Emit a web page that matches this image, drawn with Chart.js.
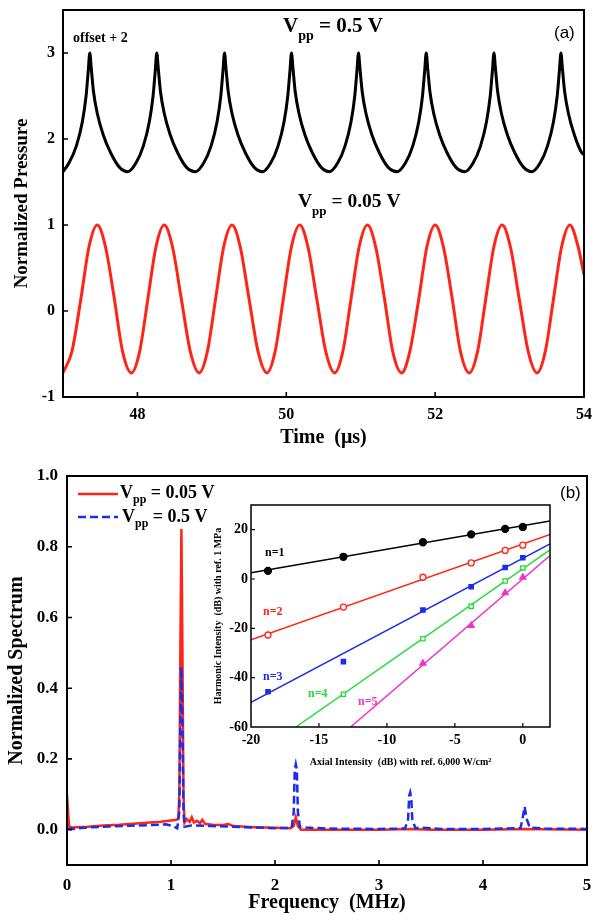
<!DOCTYPE html>
<html>
<head>
<meta charset="utf-8">
<script src="https://cdn.jsdelivr.net/npm/chart.js@4.4.1/dist/chart.umd.min.js"></script>
<style>
  body { margin: 0; background: #fff; }
  #wrap { position: relative; width: 600px; height: 921px; background: #fff; }
  canvas { position: absolute; }
</style>
</head>
<body>
<div id="wrap">
  <canvas id="chartA" width="600" height="460" style="left:0;top:0"></canvas>
  <canvas id="chartB" width="600" height="461" style="left:0;top:460px"></canvas>
  <canvas id="inset" width="370" height="285" style="left:195px;top:495px"></canvas>
</div>
<script>
// ---- (a) time waveforms ----
const timeHigh = [47.00, 47.08, 47.18, 47.26, 47.31, 47.34, 47.36, 47.38, 47.41, 47.46, 47.54, 47.64, 47.76, 47.87,
  47.98, 48.08, 48.16, 48.21, 48.24, 48.26, 48.28, 48.31, 48.36, 48.44, 48.54, 48.66, 48.78,
  48.89, 48.99, 49.07, 49.12, 49.15, 49.17, 49.19, 49.22, 49.27, 49.35, 49.45, 49.57, 49.68,
  49.79, 49.89, 49.97, 50.02, 50.05, 50.07, 50.09, 50.12, 50.17, 50.25, 50.35, 50.47, 50.58,
  50.69, 50.79, 50.87, 50.92, 50.95, 50.97, 50.99, 51.02, 51.07, 51.15, 51.25, 51.37, 51.49,
  51.60, 51.70, 51.78, 51.83, 51.86, 51.88, 51.90, 51.93, 51.98, 52.06, 52.16, 52.28, 52.40,
  52.51, 52.61, 52.69, 52.74, 52.77, 52.79, 52.81, 52.84, 52.89, 52.97, 53.07, 53.19, 53.30,
  53.41, 53.51, 53.59, 53.64, 53.67, 53.69, 53.71, 53.74, 53.79, 53.87, 53.97, 54.00];
const pressHigh = [1.62, 1.72, 1.92, 2.2, 2.5, 2.8, 3.0, 2.82, 2.55, 2.3, 2.05, 1.84, 1.67, 1.62,
  1.72, 1.92, 2.2, 2.5, 2.8, 3.0, 2.82, 2.55, 2.3, 2.05, 1.84, 1.67, 1.62,
  1.72, 1.92, 2.2, 2.5, 2.8, 3.0, 2.82, 2.55, 2.3, 2.05, 1.84, 1.67, 1.62,
  1.72, 1.92, 2.2, 2.5, 2.8, 3.0, 2.82, 2.55, 2.3, 2.05, 1.84, 1.67, 1.62,
  1.72, 1.92, 2.2, 2.5, 2.8, 3.0, 2.82, 2.55, 2.3, 2.05, 1.84, 1.67, 1.62,
  1.72, 1.92, 2.2, 2.5, 2.8, 3.0, 2.82, 2.55, 2.3, 2.05, 1.84, 1.67, 1.62,
  1.72, 1.92, 2.2, 2.5, 2.8, 3.0, 2.82, 2.55, 2.3, 2.05, 1.84, 1.67, 1.62,
  1.72, 1.92, 2.2, 2.5, 2.8, 3.0, 2.82, 2.55, 2.3, 2.05, 1.84, 1.82];

const timeLow = [47.00, 47.12, 47.24, 47.35, 47.46, 47.57, 47.69, 47.80,
  47.92, 48.03, 48.14, 48.25, 48.36, 48.47, 48.59, 48.71,
  48.83, 48.94, 49.05, 49.16, 49.27, 49.38, 49.50, 49.62,
  49.74, 49.85, 49.96, 50.07, 50.18, 50.29, 50.41, 50.53,
  50.65, 50.76, 50.87, 50.98, 51.09, 51.20, 51.32, 51.43,
  51.55, 51.66, 51.78, 51.89, 52.00, 52.11, 52.23, 52.34,
  52.46, 52.57, 52.68, 52.79, 52.90, 53.01, 53.13, 53.25,
  53.37, 53.48, 53.59, 53.70, 53.81, 53.92, 54.00];
const pressLow = [-0.72, -0.47, 0.14, 0.75, 1.0, 0.75, 0.14, -0.47,
  -0.72, -0.47, 0.14, 0.75, 1.0, 0.75, 0.14, -0.47,
  -0.72, -0.47, 0.14, 0.75, 1.0, 0.75, 0.14, -0.47,
  -0.72, -0.47, 0.14, 0.75, 1.0, 0.75, 0.14, -0.47,
  -0.72, -0.47, 0.14, 0.75, 1.0, 0.75, 0.14, -0.47,
  -0.72, -0.47, 0.14, 0.75, 1.0, 0.75, 0.14, -0.47,
  -0.72, -0.47, 0.14, 0.75, 1.0, 0.75, 0.14, -0.47,
  -0.72, -0.47, 0.14, 0.75, 1.0, 0.75, 0.42];

const timeTicks = [48, 50, 52, 54];
const pressTicks = [-1, 0, 1, 2, 3];

// ---- (b) spectra ----
const freqRed = [0, 0.01, 0.02, 0.05, 0.2, 0.35, 0.5, 0.6, 0.7, 0.8, 0.9, 1.0, 1.05, 1.07, 1.08, 1.09, 1.1, 1.11, 1.12, 1.13,
  1.15, 1.18, 1.2, 1.22, 1.25, 1.28, 1.3, 1.33, 1.4, 1.5, 1.55, 1.6, 1.8, 2.0, 2.15, 2.18, 2.2, 2.22, 2.25,
  2.5, 3.0, 3.3, 3.5, 4.0, 4.4, 5.0];
const specRed = [0.10, 0.05, 0.01, 0.006, 0.008, 0.012, 0.014, 0.016, 0.018, 0.02, 0.022, 0.026, 0.028, 0.03, 0.1, 0.5, 0.85, 0.5, 0.1, 0.02,
  0.03, 0.022, 0.035, 0.02, 0.025, 0.018, 0.028, 0.016, 0.014, 0.013, 0.016, 0.01, 0.007, 0.005, 0.004, 0.01, 0.035, 0.01, 0.0,
  0.0, 0.0, 0.002, 0.0, 0.0, 0.002, 0.0];
const freqBlue = [0, 0.05, 0.2, 0.4, 0.6, 0.8, 0.95, 1.02, 1.06, 1.08, 1.09, 1.1, 1.11, 1.12, 1.13,
  1.2, 1.4, 1.6, 1.8, 2.0, 2.16, 2.18, 2.19, 2.2, 2.21, 2.22, 2.24, 2.3, 2.5,
  3.0, 3.25, 3.28, 3.29, 3.3, 3.31, 3.32, 3.35, 3.4, 3.6, 4.0, 4.36, 4.38, 4.4, 4.42, 4.45, 4.6, 5.0];
const specBlue = [0.003, 0.002, 0.006, 0.009, 0.011, 0.013, 0.015, 0.01, 0.004, 0.05, 0.3, 0.46, 0.3, 0.05, 0.008,
  0.012, 0.01, 0.008, 0.006, 0.004, 0.005, 0.05, 0.17, 0.185, 0.17, 0.05, 0.008, 0.006, 0.003,
  0.002, 0.003, 0.03, 0.095, 0.105, 0.09, 0.03, 0.004, 0.006, 0.002, 0.002, 0.004, 0.03, 0.065, 0.03, 0.006, 0.003, 0.002];

const freqTicks = [0, 1, 2, 3, 4, 5];
const specTicks = [0, 0.2, 0.4, 0.6, 0.8, 1.0];

// ---- inset: harmonic intensity vs axial intensity ----
const axialDb = [-18.75, -13.2, -7.35, -3.8, -1.3, 0];
const harm1 = [3.3, 9, 14.9, 18.1, 20.3, 21.1];
const harm2 = [-22.7, -11.4, 0.7, 6.5, 11.6, 13.7];
const harm3 = [-45.7, -33.5, -12.6, -3.1, 4.7, 8.6];
const harm4 = [null, -46.7, -24.2, -11.1, -0.8, 4.5];
const harm5 = [null, null, -34.2, -18.9, -5.6, 0.7];
const fitX1 = [-20, 2],     fitY1 = [2.5, 23.5];
const fitX2 = [-20, 2],     fitY2 = [-24.6, 18.1];
const fitX3 = [-20, 2],     fitY3 = [-50, 14.2];
const fitX4 = [-16.7, 2],   fitY4 = [-60, 11.8];
const fitX5 = [-12.67, 2],  fitY5 = [-60, 9.5];
const axialTicks = [-20, -15, -10, -5, 0];
const harmTicks = [-60, -40, -20, 0, 20];

const SERIF = '"Liberation Serif", "Times New Roman", serif';
const RED = '#ff2418';
const BLUE = '#1c2de8';
const GREEN = '#22dd33';
const MAGENTA = '#ee33cc';

function pts(xs, ys) {
  return xs.map((x, i) => ({ x: x, y: ys[i] })).filter(p => p.y !== null);
}

// V with "pp" subscript, then the rest of the text
function vpp(ctx, x, y, size, rest, drop) {
  ctx.fillStyle = '#000';
  ctx.textAlign = 'left';
  ctx.textBaseline = 'alphabetic';
  ctx.font = 'bold ' + size + 'px ' + SERIF;
  ctx.fillText('V', x, y);
  let w = ctx.measureText('V').width;
  const sub = Math.round(size * 0.66);
  ctx.font = 'bold ' + sub + 'px ' + SERIF;
  ctx.fillText('pp', x + w, y + size * drop);
  w += ctx.measureText('pp').width;
  ctx.font = 'bold ' + size + 'px ' + SERIF;
  ctx.fillText(rest, x + w, y);
}

// box around the plot area, inward tick marks, extra text
function framePlugin(lineWidth, tickLen, drawText) {
  return {
    id: 'frame',
    afterDraw(chart) {
      const ctx = chart.ctx;
      const a = chart.chartArea;
      const xs = chart.scales.x, ys = chart.scales.y;
      ctx.save();
      ctx.strokeStyle = '#000';
      ctx.lineWidth = lineWidth;
      ctx.strokeRect(a.left, a.top, a.right - a.left, a.bottom - a.top);
      ctx.lineWidth = lineWidth * 0.8;
      ctx.beginPath();
      xs.ticks.forEach(t => {
        const px = xs.getPixelForValue(t.value);
        if (px > a.left + 1 && px < a.right - 1) {
          ctx.moveTo(px, a.bottom);
          ctx.lineTo(px, a.bottom - tickLen);
        }
      });
      ys.ticks.forEach(t => {
        const py = ys.getPixelForValue(t.value);
        if (py > a.top + 1 && py < a.bottom - 1) {
          ctx.moveTo(a.left, py);
          ctx.lineTo(a.left + tickLen, py);
        }
      });
      ctx.stroke();
      if (drawText) drawText(ctx, chart);
      ctx.restore();
    }
  };
}

function axis(min, max, ticks, fmt, fontSize, pad, title, titleSize, titlePad, fixed, horizontal) {
  return {
    type: 'linear',
    min: min,
    max: max,
    afterBuildTicks: s => { s.ticks = ticks.map(v => ({ value: v })); },
    afterFit: s => {
      if (horizontal) s.height = fixed; else s.width = fixed;
      // plot area is set by the layout padding alone
      s.paddingTop = s.paddingBottom = s.paddingLeft = s.paddingRight = 0;
    },
    grid: { display: false, drawTicks: false },
    border: { display: false },
    ticks: {
      color: '#000',
      padding: pad,
      font: { family: SERIF, size: fontSize, weight: 'bold' },
      callback: v => fmt(v)
    },
    title: {
      display: true,
      text: title,
      color: '#000',
      padding: titlePad,
      font: { family: SERIF, size: titleSize, weight: 'bold' }
    }
  };
}

Chart.defaults.animation = false;
Chart.defaults.devicePixelRatio = 1;

// ---------- chart (a) ----------
new Chart(document.getElementById('chartA'), {
  type: 'line',
  data: {
    datasets: [{
      data: pts(timeHigh, pressHigh),
      borderColor: '#000',
      borderWidth: 3,
      pointRadius: 0,
      cubicInterpolationMode: 'monotone'
    }, {
      data: pts(timeLow, pressLow),
      borderColor: RED,
      borderWidth: 3,
      pointRadius: 0,
      cubicInterpolationMode: 'monotone'
    }]
  },
  options: {
    responsive: false,
    layout: { padding: { left: 0, right: 16, top: 10, bottom: 0 } },
    plugins: { legend: { display: false }, tooltip: { enabled: false } },
    scales: {
      x: axis(47, 54, timeTicks, v => String(v), 16, 8, 'Time  (μs)', 20, { bottom: 10 }, 63, true),
      y: axis(-1, 3.5, pressTicks, v => String(v), 16, 8, 'Normalized Pressure', 19, { top: 11 }, 63, false)
    }
  },
  plugins: [framePlugin(2, 5, ctx => {
    ctx.fillStyle = '#000';
    ctx.font = 'bold 14px ' + SERIF;
    ctx.fillText('offset + 2', 73, 42);
    vpp(ctx, 283, 32, 21, ' = 0.5 V', 0.4);
    vpp(ctx, 298, 207, 19.5, ' = 0.05 V', 0.4);
    ctx.font = '17px "Liberation Sans", Arial, sans-serif';
    ctx.fillText('(a)', 554, 38);
  })]
});

// ---------- chart (b) ----------
new Chart(document.getElementById('chartB'), {
  type: 'line',
  data: {
    datasets: [{
      label: 'Vpp = 0.5 V',
      data: pts(freqBlue, specBlue),
      borderColor: BLUE,
      borderWidth: 2.5,
      borderDash: [8, 4],
      pointRadius: 0,
      tension: 0
    }, {
      label: 'Vpp = 0.05 V',
      data: pts(freqRed, specRed),
      borderColor: RED,
      borderWidth: 2.5,
      pointRadius: 0,
      tension: 0
    }]
  },
  options: {
    responsive: false,
    layout: { padding: { left: 0, right: 13, top: 16, bottom: 0 } },
    plugins: { legend: { display: false }, tooltip: { enabled: false } },
    scales: {
      x: axis(0, 5, freqTicks, v => String(v), 17, 10, 'Frequency  (MHz)', 20, { bottom: 6 }, 56, true),
      y: axis(-0.1, 1.0, specTicks, v => v.toFixed(1), 17, 9, 'Normalized Spectrum', 20, { top: 5 }, 67, false)
    }
  },
  plugins: [framePlugin(2, 5, (ctx, chart) => {
    const ds = chart.data.datasets;
    // legend samples drawn with each dataset's own style
    ctx.lineWidth = ds[1].borderWidth;
    ctx.strokeStyle = ds[1].borderColor;
    ctx.setLineDash([]);
    ctx.beginPath(); ctx.moveTo(78, 34); ctx.lineTo(118, 34); ctx.stroke();
    ctx.strokeStyle = ds[0].borderColor;
    ctx.setLineDash(ds[0].borderDash);
    ctx.beginPath(); ctx.moveTo(78, 57); ctx.lineTo(118, 57); ctx.stroke();
    ctx.setLineDash([]);
    vpp(ctx, 120, 38, 18, ' = 0.05 V', 0.3);
    vpp(ctx, 122, 62, 18, ' = 0.5 V', 0.3);
    ctx.font = '17px "Liberation Sans", Arial, sans-serif';
    ctx.fillText('(b)', 560, 38);
  })]
});

// ---------- inset ----------
function marks(ys, color, style, fill, r) {
  return {
    type: 'scatter',
    data: pts(axialDb, ys),
    showLine: false,
    pointStyle: style,
    pointRadius: r,
    borderColor: color,
    borderWidth: 1.3,
    backgroundColor: fill ? color : '#fff'
  };
}
function fit(xs, ys, color) {
  return {
    type: 'line',
    data: pts(xs, ys),
    borderColor: color,
    borderWidth: 1.5,
    pointRadius: 0,
    tension: 0
  };
}

new Chart(document.getElementById('inset'), {
  type: 'scatter',
  data: {
    datasets: [
      marks(harm1, '#000', 'circle', true, 3.5),
      marks(harm2, RED, 'circle', false, 3),
      marks(harm3, BLUE, 'rect', true, 3),
      marks(harm4, GREEN, 'rect', false, 3),
      marks(harm5, MAGENTA, 'triangle', true, 3.5),
      fit(fitX1, fitY1, '#000'),
      fit(fitX2, fitY2, RED),
      fit(fitX3, fitY3, BLUE),
      fit(fitX4, fitY4, GREEN),
      fit(fitX5, fitY5, MAGENTA)
    ]
  },
  options: {
    responsive: false,
    layout: { padding: { left: 0, right: 15, top: 10, bottom: 0 } },
    plugins: { legend: { display: false }, tooltip: { enabled: false } },
    scales: {
      x: axis(-20, 2, axialTicks, v => String(v), 14, 5, 'Axial Intensity  (dB) with ref. 6,000 W/cm²', 10, { bottom: 12 }, 53, true),
      y: axis(-60, 30, harmTicks, v => String(v), 14, 3, 'Harmonic Intensity  (dB) with ref. 1 MPa', 10, { top: 17 }, 56, false)
    }
  },
  plugins: [framePlugin(1.5, 4, ctx => {
    ctx.font = 'bold 12px ' + SERIF;
    ctx.fillStyle = '#000';   ctx.fillText('n=1', 70, 61);
    ctx.fillStyle = RED;      ctx.fillText('n=2', 68, 120);
    ctx.fillStyle = BLUE;     ctx.fillText('n=3', 68, 185);
    ctx.fillStyle = GREEN;    ctx.fillText('n=4', 113, 202);
    ctx.fillStyle = MAGENTA;  ctx.fillText('n=5', 163, 210);
  })]
});
</script>
</body>
</html>
